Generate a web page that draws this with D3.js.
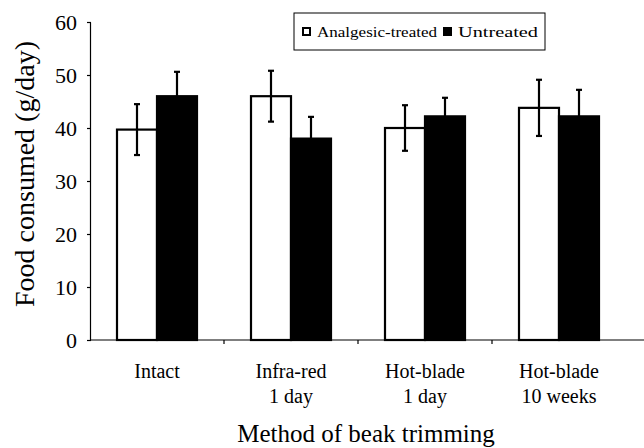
<!DOCTYPE html>
<html>
<head>
<meta charset="utf-8">
<script src="https://cdn.jsdelivr.net/npm/d3@7"></script>
<style>
  body { margin: 0; background: #fff; }
</style>
</head>
<body>
<div id="chart"></div>
<script>
// data
var categories = ["Intact", "Infra-red|1 day", "Hot-blade|1 day", "Hot-blade|10 weeks"];
var seriesNames = ["Analgesic-treated", "Untreated"];
var treatedMean = [39.7, 46.0, 40.0, 43.8];
var treatedErr = [4.8, 4.8, 4.3, 5.3];
var untreatedMean = [46.0, 38.0, 42.2, 42.2];
var untreatedErr = [4.6, 4.1, 3.5, 5.0];
var yTicks = [0, 10, 20, 30, 40, 50, 60];

var serif = "'Times New Roman', 'Liberation Serif', Times, 'DejaVu Serif', serif";

var width = 644, height = 448;
var margin = {top: 22, right: 18, bottom: 108, left: 90};
var plotW = width - margin.left - margin.right;
var plotH = height - margin.top - margin.bottom;

var svg = d3.select("#chart").append("svg")
    .attr("width", width)
    .attr("height", height)
    .attr("font-family", serif);

var g = svg.append("g")
    .attr("transform", "translate(" + margin.left + "," + margin.top + ")");

var x = d3.scaleBand()
    .domain(categories)
    .range([0, plotW]);

var xSub = d3.scaleBand()
    .domain(seriesNames)
    .range([0, 80]);

var y = d3.scaleLinear()
    .domain([0, 60])
    .range([plotH, 0]);

var color = d3.scaleOrdinal()
    .domain(seriesNames)
    .range(["#fff", "#000"]);

var rows = [];
categories.forEach(function(c, i) {
    rows.push({cat: c, s: seriesNames[0], v: treatedMean[i], e: treatedErr[i]});
    rows.push({cat: c, s: seriesNames[1], v: untreatedMean[i], e: untreatedErr[i]});
});

function barX(d) {
    return x(d.cat) + (x.bandwidth() - 80) / 2 + xSub(d.s);
}

// y axis
var yAxis = g.append("g")
    .call(d3.axisLeft(y).tickValues(yTicks).tickSize(3).tickSizeOuter(0))
    .attr("font-family", serif);
yAxis.select(".domain").attr("stroke", "#000").attr("stroke-width", 1.2);
yAxis.selectAll(".tick line").attr("stroke-width", 1.2).attr("x2", -3).attr("x1", 1);
yAxis.selectAll("text")
    .attr("x", -13)
    .attr("dy", "0.36em")
    .attr("fill", "#000")
    .attr("font-family", serif)
    .style("font-size", "22px");

// bars
g.selectAll(".bar")
    .data(rows)
    .enter().append("rect")
    .attr("class", "bar")
    .attr("x", barX)
    .attr("y", function(d) { return y(d.v); })
    .attr("width", xSub.bandwidth())
    .attr("height", function(d) { return plotH - y(d.v); })
    .attr("fill", function(d) { return color(d.s); })
    .attr("stroke", "#000")
    .attr("stroke-width", 2.2);

// error bars
var errG = g.selectAll(".err")
    .data(rows)
    .enter().append("g")
    .attr("class", "err");

errG.append("line")
    .attr("x1", function(d) { return barX(d) + xSub.bandwidth() / 2; })
    .attr("x2", function(d) { return barX(d) + xSub.bandwidth() / 2; })
    .attr("y1", function(d) { return y(d.v - d.e); })
    .attr("y2", function(d) { return y(d.v + d.e); })
    .attr("stroke", "#000")
    .attr("stroke-width", 2.2);

errG.selectAll(".cap")
    .data(function(d) { return [d.v - d.e, d.v + d.e].map(function(t) { return {d: d, t: t}; }); })
    .enter().append("line")
    .attr("x1", function(o) { return barX(o.d) + xSub.bandwidth() / 2 - 3; })
    .attr("x2", function(o) { return barX(o.d) + xSub.bandwidth() / 2 + 3; })
    .attr("y1", function(o) { return y(o.t); })
    .attr("y2", function(o) { return y(o.t); })
    .attr("stroke", "#000")
    .attr("stroke-width", 2.2);

// x axis
g.append("line")
    .attr("x1", 0)
    .attr("x2", width - margin.left)
    .attr("y1", plotH)
    .attr("y2", plotH)
    .attr("stroke", "#000")
    .attr("stroke-width", 1.2);

g.selectAll(".xtick")
    .data(categories.slice(1))
    .enter().append("line")
    .attr("x1", function(d) { return x(d); })
    .attr("x2", function(d) { return x(d); })
    .attr("y1", plotH)
    .attr("y2", plotH + 4)
    .attr("stroke", "#000")
    .attr("stroke-width", 1.2);

var xl = g.selectAll(".xlabel")
    .data(categories)
    .enter().append("text")
    .attr("class", "xlabel")
    .attr("text-anchor", "middle")
    .attr("font-family", serif)
    .attr("transform", function(d) { return "translate(" + (x(d) + x.bandwidth() / 2) + "," + (plotH + 38) + ")"; })
    .style("font-size", "20px");

xl.selectAll("tspan")
    .data(function(d) { return d.split("|"); })
    .enter().append("tspan")
    .attr("x", 0)
    .attr("dy", function(d, i) { return i === 0 ? 0 : 25; })
    .text(function(d) { return d; });

// axis titles
svg.append("text")
    .attr("x", 366)
    .attr("y", 442)
    .attr("text-anchor", "middle")
    .attr("font-family", serif)
    .style("font-size", "25px")
    .text("Method of beak trimming");

svg.append("text")
    .attr("transform", "translate(34,174) rotate(-90)")
    .attr("text-anchor", "middle")
    .attr("font-family", serif)
    .style("font-size", "28px")
    .text("Food consumed (g/day)");

// legend
var legend = svg.append("g")
    .attr("transform", "translate(294,13)");

legend.append("rect")
    .attr("width", 251)
    .attr("height", 37)
    .attr("fill", "#fff")
    .attr("stroke", "#000")
    .attr("stroke-width", 1);

var legX = [9, 150];
var legLen = [120, 80];
var li = legend.selectAll(".li")
    .data(seriesNames)
    .enter().append("g")
    .attr("transform", function(d, i) { return "translate(" + legX[i] + ",19)"; });

li.append("rect")
    .attr("x", 0)
    .attr("y", -4)
    .attr("width", 7)
    .attr("height", 7)
    .attr("fill", function(d) { return color(d); })
    .attr("stroke", "#000")
    .attr("stroke-width", 2);

li.append("text")
    .attr("x", 14)
    .attr("y", 5)
    .attr("font-family", serif)
    .attr("textLength", function(d, i) { return legLen[i]; })
    .attr("lengthAdjust", "spacingAndGlyphs")
    .style("font-size", "15px")
    .text(function(d) { return d; });
</script>
</body>
</html>
